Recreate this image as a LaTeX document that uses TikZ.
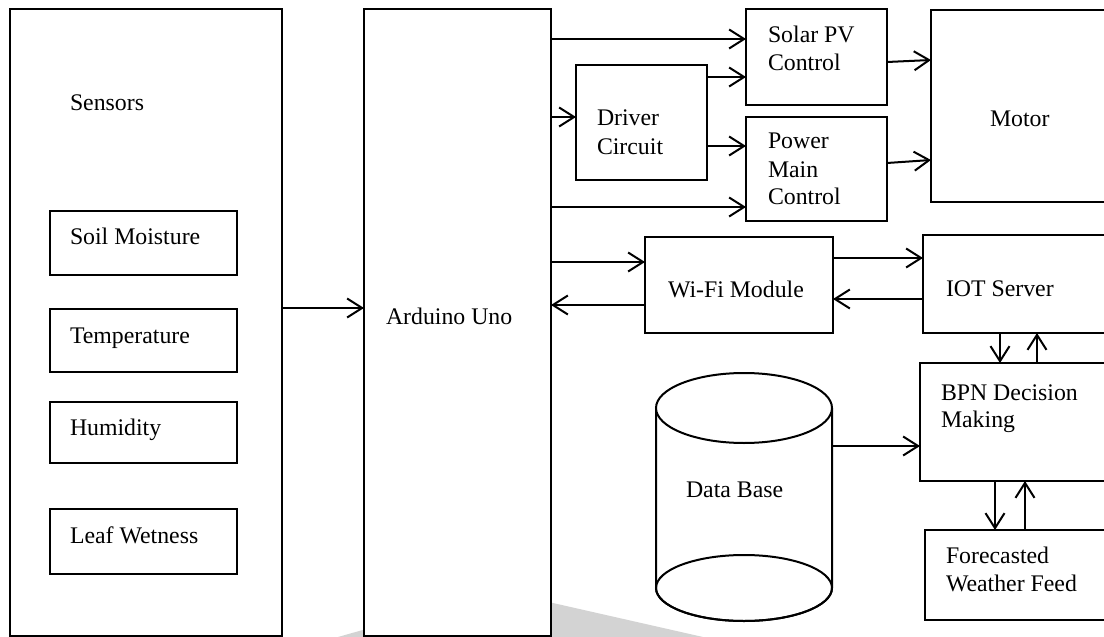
\documentclass[tikz,border=0pt]{standalone}
\usepackage{fontspec}
\setmainfont{Liberation Serif}
\usetikzlibrary{arrows.meta}
\definecolor{wedgegray}{RGB}{211,211,211}
% \blk[style]{name}{x1}{y1}{x2}{y2}: box with its top-left corner at (x1,y1)
\newcommand\blk[6][blk]{\node[#1,minimum width={#5-#3},minimum height={#6-#4}] (#2) at (#3,#4) {};}
\begin{document}
\begin{tikzpicture}[x=1pt,y=-1pt,
  blk/.style={draw=black,line width=2pt,fill=white,inner sep=0pt,outer sep=0pt,anchor=north west},
  sub/.style={blk,line width=1.5pt},
  lbl/.style={anchor=base west,inner sep=0pt,outer sep=0pt,font=\fontsize{23.8}{27}\selectfont},
  arr/.style={line width=2pt,-{Straight Barb[length=15pt,width=19pt]}}]
\useasboundingbox (0,0) rectangle (1104,637);
\clip (0,0) rectangle (1104,637);

% soft grey wedge behind the lower part
\fill[wedgegray] (338,637) -- (500,591) -- (703,637) -- cycle;

% sensor block
\blk{sensors}{10}{9}{282}{636}
\node[lbl] (sensorsT) at (70,110) {Sensors};
\blk[sub]{soil}{50}{211}{237}{275}
\node[lbl] (soilT) at (70,244) {Soil Moisture};
\blk[sub]{temp}{50}{309}{237}{372}
\node[lbl] (tempT) at (70,343) {Temperature};
\blk[sub]{hum}{50}{402}{237}{463}
\node[lbl] (humT) at (70,435) {Humidity};
\blk[sub]{leaf}{50}{509}{237}{574}
\node[lbl] (leafT) at (70,543) {Leaf Wetness};

% controller
\blk{ard}{364}{9}{551}{636}
\node[lbl] (ardT) at (386,324) {Arduino Uno};

% power path
\blk{solar}{746}{9}{887}{105}
\node[lbl] (solarT1) at (768,42.7) {Solar PV};
\node[lbl] (solarT2) at (768,70) {Control};
\blk{drv}{576}{65}{707}{180}
\node[lbl] (drvT1) at (597,125) {Driver};
\node[lbl] (drvT2) at (597,154) {Circuit};
\blk{pwr}{746}{117}{887}{221}
\node[lbl] (pwrT1) at (768,148) {Power};
\node[lbl] (pwrT2) at (768,177) {Main};
\node[lbl] (pwrT3) at (768,204) {Control};
\blk{motor}{931}{10}{1140}{202}
\node[lbl] (motorT) at (990,126) {Motor};

% communication path
\blk{wifi}{645}{237}{833}{333}
\node[lbl] (wifiT) at (668,297) {Wi-Fi Module};
\blk{iot}{923}{235}{1140}{333}
\node[lbl] (iotT) at (946,296) {IOT Server};
\blk{bpn}{920}{363}{1140}{481}
\node[lbl] (bpnT1) at (941,400) {BPN Decision};
\node[lbl] (bpnT2) at (941,427) {Making};
\blk{fc}{925}{530}{1140}{620}
\node[lbl] (fcT1) at (946,563) {Forecasted};
\node[lbl] (fcT2) at (946,591) {Weather Feed};

% database cylinder
\node[inner sep=0pt,outer sep=0pt,minimum width=176pt,minimum height=248pt,anchor=north west] (db) at (656,373) {};
\draw[line width=2pt,fill=white] (656,408) -- (656,588) arc[start angle=180,end angle=360,x radius=88pt,y radius=33pt] -- (832,408);
\draw[line width=2pt] (744,588) ellipse [x radius=88pt,y radius=33pt];
\draw[line width=2pt,fill=white] (744,408) ellipse [x radius=88pt,y radius=35pt];
\node[lbl] (dbT) at (686,497) {Data Base};

% connectors
\draw[arr] (sensors.east |- 0,308) -- (ard.west |- 0,308);
\draw[arr] (ard.east |- 0,39) -- (solar.west |- 0,39);
\draw[arr] (ard.east |- 0,117) -- (drv.west |- 0,117);
\draw[arr] (drv.east |- 0,77) -- (solar.west |- 0,77);
\draw[arr] (drv.east |- 0,146) -- (pwr.west |- 0,146);
\draw[arr] (ard.east |- 0,207) -- (pwr.west |- 0,207);
\draw[arr] (solar.east |- 0,62) -- (motor.west |- 0,60);
\draw[arr] (pwr.east |- 0,163) -- (motor.west |- 0,160);
\draw[arr] (ard.east |- 0,262) -- (wifi.west |- 0,262);
\draw[arr] (wifi.west |- 0,305) -- (ard.east |- 0,305);
\draw[arr] (wifi.east |- 0,258) -- (iot.west |- 0,258);
\draw[arr] (iot.west |- 0,299) -- (wifi.east |- 0,299);
\draw[arr] (iot.south -| 1000,0) -- (bpn.north -| 1000,0);
\draw[arr] (bpn.north -| 1037,0) -- (iot.south -| 1037,0);
\draw[arr] (db.east |- 0,446) -- (bpn.west |- 0,446);
\draw[arr] (bpn.south -| 995,0) -- (fc.north -| 995,0);
\draw[arr] (fc.north -| 1025,0) -- (bpn.south -| 1025,0);
\end{tikzpicture}
\end{document}
